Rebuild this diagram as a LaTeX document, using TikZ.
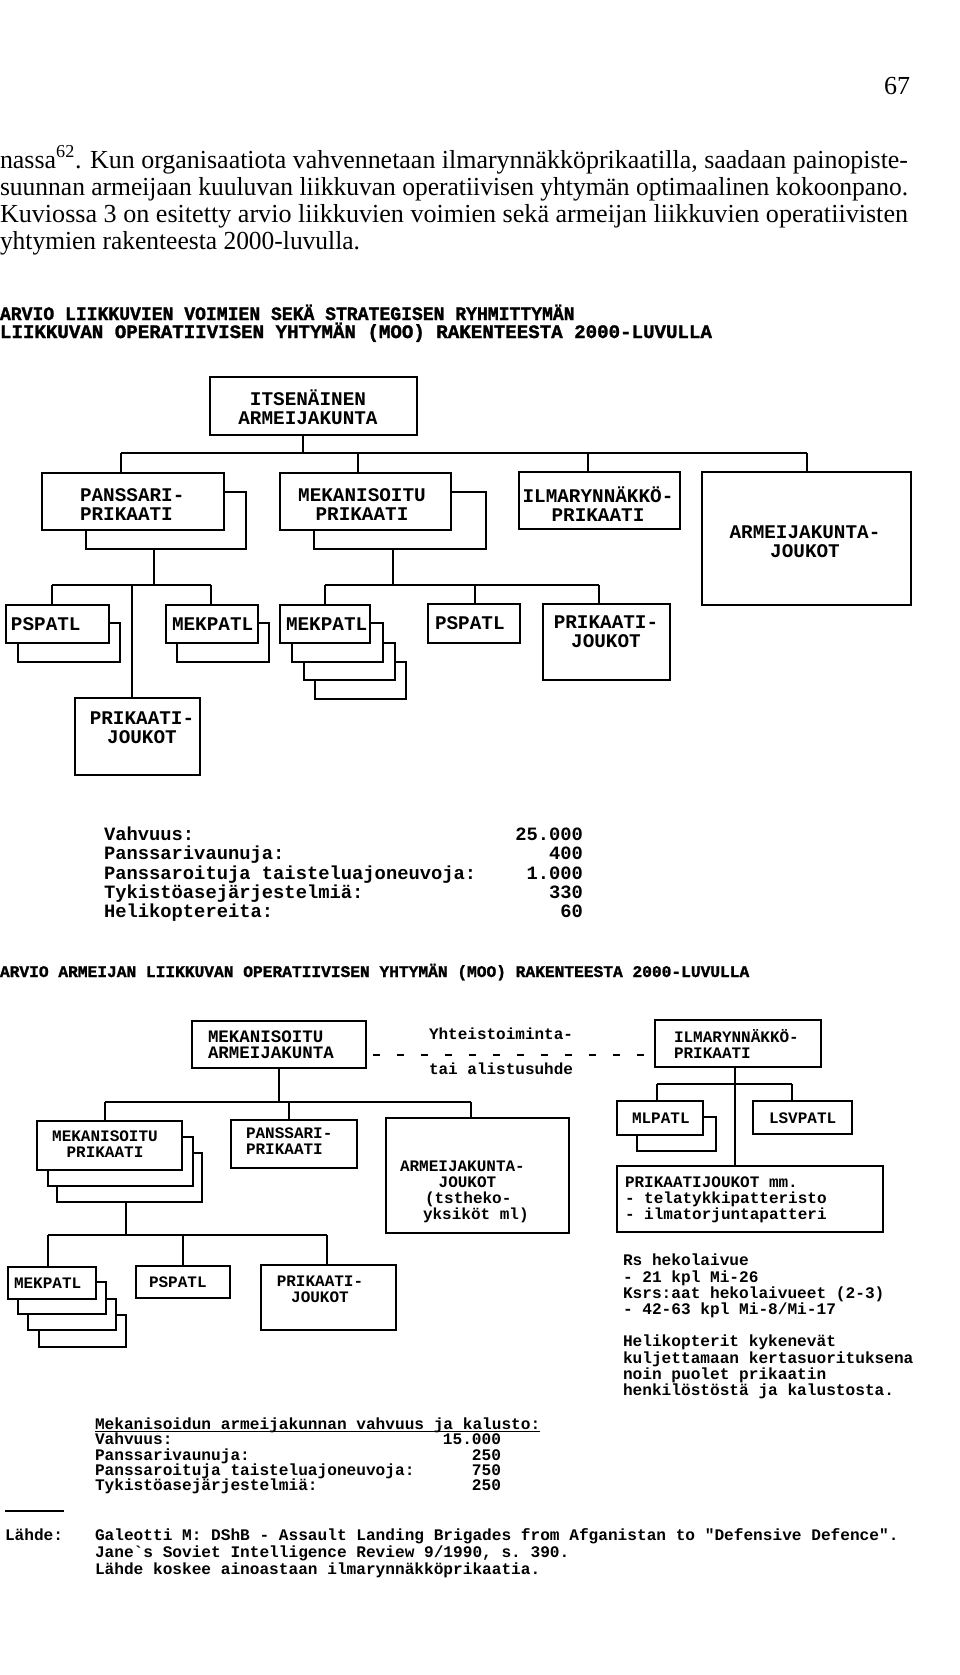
\documentclass[tikz,border=0pt]{standalone}
\usepackage{fontspec}
\usepackage{graphicx}
\setmainfont{Liberation Serif}
\setmonofont{Liberation Mono}
\newfontfamily\headfont{Liberation Mono}[BoldFeatures={FakeBold=1.5}]
\usetikzlibrary{fit}
\newcommand\fitw[2]{\resizebox{#1}{\height}{#2}}
\newcommand\fA{\ttfamily\bfseries\fontsize{14.5pt}{14.25pt}\selectfont}
\newcommand\fB{\ttfamily\bfseries\fontsize{12pt}{12pt}\selectfont}
\newcommand\fBm{\ttfamily\bfseries\fontsize{13.1pt}{12pt}\selectfont}
\newcommand\fS{\ttfamily\bfseries\fontsize{14.1pt}{14.25pt}\selectfont}
\newcommand\fT{\ttfamily\bfseries\fontsize{12.1pt}{12.2pt}\selectfont}
\newcommand\fH{\headfont\bfseries\fontsize{14.25pt}{14.25pt}\selectfont}
\newcommand\fHb{\headfont\bfseries\fontsize{12.2pt}{12.2pt}\selectfont}
\newcommand\fP{\rmfamily\fontsize{19.5pt}{20.25pt}\selectfont}
\newcommand\bx[6][box]{\node[#1, fit={(#3,#4) (#5,#6)}] (#2) {};}
\tikzset{
  box/.style={draw, line width=1.3pt, fill=white, inner sep=0pt, outer sep=0pt},
  boxb/.style={draw, line width=1.1pt, fill=white, inner sep=0pt, outer sep=0pt},
  ln/.style={line width=1.3pt},
  lnb/.style={line width=1.1pt},
  tx/.style={inner sep=0pt, outer sep=0pt},
  ta/.style={tx, font=\fA},
  tb/.style={tx, font=\fB},
  ts/.style={tx, font=\fS},
  tt/.style={tx, font=\fT},
}
\begin{document}
\begin{tikzpicture}[x=0.75pt,y=-0.75pt]
\useasboundingbox[fill=white] (0,0) rectangle (960,1675);

% ---------- page number and paragraph ----------
\node[tx, font=\fP, anchor=base west] (pnum) at (884,94) {67};
\node[tx, font=\fP, anchor=base west] (p1) at (0,168) {\fitw{681pt}{nassa\textsuperscript{62}. Kun organisaatiota vahvennetaan ilmarynnäkköprikaatilla, saadaan painopiste-}};
\node[tx, font=\fP, anchor=base west] (p2) at (0,195) {\fitw{681pt}{suunnan armeijaan kuuluvan liikkuvan operatiivisen yhtymän optimaalinen kokoonpano.}};
\node[tx, font=\fP, anchor=base west] (p3) at (0,222) {\fitw{681pt}{Kuviossa 3 on esitetty arvio liikkuvien voimien sekä armeijan liikkuvien operatiivisten}};
\node[tx, font=\fP, anchor=base west] (p4) at (0,249) {\fitw{270pt}{yhtymien rakenteesta 2000-luvulla.}};

% ---------- heading 1 ----------
\node[tx, font=\fH, anchor=base west] (h1a) at (0,320) {\fitw{431pt}{ARVIO LIIKKUVIEN VOIMIEN SEKÄ STRATEGISEN RYHMITTYMÄN}};
\node[tx, font=\fH, anchor=base west] (h1b) at (0,338) {\fitw{534pt}{LIIKKUVAN OPERATIIVISEN YHTYMÄN (MOO) RAKENTEESTA 2000-LUVULLA}};

% ---------- chart 1 boxes ----------
\bx{itsen}{210}{377}{417}{435}
\bx{pansB}{86}{492}{246}{549}
\bx{pansF}{42}{473}{224}{530}
\bx{mekB}{314}{492}{486}{549}
\bx{mekF}{280}{473}{451}{530}
\bx{ilma}{519}{472}{680}{529}
\bx{akj}{702}{472}{911}{605}
\bx{ps1B}{18}{623}{120}{662}
\bx{ps1F}{6}{605}{109}{643}
\bx{mp1B}{177}{623}{269}{662}
\bx{mp1F}{166}{605}{258}{643}
\bx{pj1}{75}{698}{200}{775}
\bx{mp2C}{315}{662}{406}{699}
\bx{mp2B}{304}{643}{395}{680}
\bx{mp2A}{292}{623}{383}{662}
\bx{mp2F}{280}{605}{370}{643}
\bx{ps2}{428}{604}{520}{643}
\bx{pj2}{543}{604}{670}{680}

% chart 1 texts
\node[ta, align=center] (t-itsen) at (308,407) {ITSENÄINEN\\ARMEIJAKUNTA};
\node[ta, align=left, anchor=west] (t-pans) at (80,505) {PANSSARI-\\PRIKAATI};
\node[ta, align=center] (t-mek) at (362,505) {MEKANISOITU\\PRIKAATI};
\node[ta, align=center] (t-ilma) at (598,504) {ILMARYNNÄKKÖ-\\PRIKAATI};
\node[ta, align=center] (t-akj) at (805,542) {ARMEIJAKUNTA-\\JOUKOT};
\node[ta, anchor=west] (t-ps1) at (11,624) {PSPATL};
\node[ta, anchor=west] (t-mp1) at (172,624) {MEKPATL};
\node[ta, anchor=west] (t-mp2) at (286,624) {MEKPATL};
\node[ta, anchor=west] (t-ps2) at (435,623) {PSPATL};
\node[ta, align=center] (t-pj1) at (142,728) {PRIKAATI-\\JOUKOT};
\node[ta, align=center] (t-pj2) at (606,632) {PRIKAATI-\\JOUKOT};

% chart 1 connectors
\coordinate (b1m) at (303,453);
\coordinate (b1a) at (121,453);
\coordinate (b1b) at (358,453);
\coordinate (b1c) at (588,453);
\coordinate (b1d) at (807,453);
\draw[ln] (b1m |- itsen.south) -- (b1m);
\draw[ln] (b1a) -- (b1d);
\draw[ln] (b1a) -- (b1a |- pansF.north);
\draw[ln] (b1b) -- (b1b |- mekF.north);
\draw[ln] (b1c) -- (b1c |- ilma.north);
\draw[ln] (b1d) -- (b1d |- akj.north);

\coordinate (b2m) at (154,585);
\coordinate (b2a) at (52,585);
\coordinate (b2b) at (211,585);
\coordinate (b2c) at (132,585);
\draw[ln] (b2m |- pansB.south) -- (b2m);
\draw[ln] (b2a) -- (b2b);
\draw[ln] (b2a) -- (b2a |- ps1F.north);
\draw[ln] (b2b) -- (b2b |- mp1F.north);
\draw[ln] (b2c) -- (b2c |- pj1.north);

\coordinate (b3m) at (393,585);
\coordinate (b3a) at (325,585);
\coordinate (b3b) at (475,585);
\coordinate (b3c) at (599,585);
\draw[ln] (b3m |- mekB.south) -- (b3m);
\draw[ln] (b3a) -- (b3c);
\draw[ln] (b3a) -- (b3a |- mp2F.north);
\draw[ln] (b3b) -- (b3b |- ps2.north);
\draw[ln] (b3c) -- (b3c |- pj2.north);

% ---------- statistics 1 ----------
\node[ts, anchor=base west] (s1a) at (104,840) {Vahvuus:};
\node[ts, anchor=base west] (s1b) at (104,859) {Panssarivaunuja:};
\node[ts, anchor=base west] (s1c) at (104,879) {Panssaroituja taisteluajoneuvoja:};
\node[ts, anchor=base west] (s1d) at (104,898) {Tykistöasejärjestelmiä:};
\node[ts, anchor=base west] (s1e) at (104,917) {Helikoptereita:};
\node[ts, anchor=base east] (v1a) at (583,840) {25.000};
\node[ts, anchor=base east] (v1b) at (583,859) {400};
\node[ts, anchor=base east] (v1c) at (583,879) {1.000};
\node[ts, anchor=base east] (v1d) at (583,898) {330};
\node[ts, anchor=base east] (v1e) at (583,917) {60};

% ---------- heading 2 ----------
\node[tx, font=\fHb, anchor=base west] (h2) at (0,977) {\fitw{562pt}{ARVIO ARMEIJAN LIIKKUVAN OPERATIIVISEN YHTYMÄN (MOO) RAKENTEESTA 2000-LUVULLA}};

% ---------- chart 2 boxes ----------
\bx[boxb]{mak}{192}{1021}{366}{1068}
\bx[boxb]{ilma2}{655}{1020}{821}{1067}
\bx[boxb]{mpr2C}{57}{1153}{202}{1202}
\bx[boxb]{mpr2B}{48}{1137}{193}{1186}
\bx[boxb]{mpr2F}{37}{1121}{182}{1170}
\bx[boxb]{ppr2}{231}{1120}{357}{1168}
\bx[boxb]{akj2}{386}{1118}{569}{1233}
\bx[boxb]{mp3C}{39}{1315}{126}{1347}
\bx[boxb]{mp3B}{28}{1299}{116}{1330}
\bx[boxb]{mp3A}{18}{1282}{106}{1314}
\bx[boxb]{mp3F}{8}{1267}{96}{1299}
\bx[boxb]{ps3}{136}{1266}{230}{1298}
\bx[boxb]{pj3}{261}{1265}{396}{1330}
\bx[boxb]{mlB}{637}{1117}{716}{1151}
\bx[boxb]{mlF}{617}{1101}{703}{1135}
\bx[boxb]{lsv}{753}{1101}{852}{1134}
\bx[boxb]{prjo}{617}{1166}{883}{1232}

% chart 2 texts
\node[tx, font=\fBm, align=left, anchor=west] (t-mak) at (208,1045) {MEKANISOITU\\ARMEIJAKUNTA};
\node[tb, anchor=west] (t-yht) at (429,1034) {Yhteistoiminta-};
\node[tb, anchor=west] (t-tai) at (429,1069) {tai alistusuhde};
\node[tb, align=left, anchor=west] (t-ilma2) at (674,1044) {ILMARYNNÄKKÖ-\\PRIKAATI};
\node[tb, align=center] (t-mpr2) at (105,1144) {MEKANISOITU\\PRIKAATI};
\node[tb, align=left, anchor=west] (t-ppr2) at (246,1141) {PANSSARI-\\PRIKAATI};
\node[tb, align=left, anchor=west] (t-akj2) at (400,1192) {ARMEIJAKUNTA-\\\hspace*{29pt}JOUKOT\\\hspace*{18.75pt}(tstheko-\\\hspace*{17.25pt}yksiköt ml)};
\node[tb, anchor=west] (t-mp3) at (14,1283) {MEKPATL};
\node[tb, anchor=west] (t-ps3) at (149,1282) {PSPATL};
\node[tb, align=center] (t-pj3) at (320,1289) {PRIKAATI-\\JOUKOT};
\node[tb, anchor=west] (t-ml) at (632,1118) {MLPATL};
\node[tb, anchor=west] (t-lsv) at (769,1118) {LSVPATL};
\node[tb, align=left, anchor=west] (t-prjo) at (625,1200) {PRIKAATIJOUKOT mm.\\- telatykkipatteristo\\- ilmatorjuntapatteri};

% chart 2 connectors
\coordinate (dl) at (0,1055);
\draw[lnb, dash pattern=on 5.25pt off 12.75pt, dash phase=-5pt] (mak.east |- dl) -- (ilma2.west |- dl);
\coordinate (b4m) at (279,1102);
\coordinate (b4a) at (105,1102);
\coordinate (b4b) at (289,1102);
\coordinate (b4c) at (471,1102);
\draw[lnb] (b4m |- mak.south) -- (b4m);
\draw[lnb] (b4a) -- (b4c);
\draw[lnb] (b4a) -- (b4a |- mpr2F.north);
\draw[lnb] (b4b) -- (b4b |- ppr2.north);
\draw[lnb] (b4c) -- (b4c |- akj2.north);

\coordinate (b5m) at (126,1235);
\coordinate (b5a) at (48,1235);
\coordinate (b5b) at (183,1235);
\coordinate (b5c) at (327,1235);
\draw[lnb] (b5m |- mpr2C.south) -- (b5m);
\draw[lnb] (b5a) -- (b5c);
\draw[lnb] (b5a) -- (b5a |- mp3F.north);
\draw[lnb] (b5b) -- (b5b |- ps3.north);
\draw[lnb] (b5c) -- (b5c |- pj3.north);

\coordinate (b6m) at (735,1084);
\coordinate (b6a) at (657,1084);
\coordinate (b6b) at (792,1084);
\draw[lnb] (b6m |- ilma2.south) -- (b6m |- prjo.north);
\draw[lnb] (b6a) -- (b6b);
\draw[lnb] (b6a) -- (b6a |- mlF.north);
\draw[lnb] (b6b) -- (b6b |- lsv.north);

% right notes
\node[tt, align=left, anchor=west] (n1) at (623,1286) {Rs hekolaivue\\- 21 kpl Mi-26\\Ksrs:aat hekolaivueet (2-3)\\- 42-63 kpl Mi-8/Mi-17};
\node[tt, align=left, anchor=west] (n2) at (623,1367) {Helikopterit kykenevät\\kuljettamaan kertasuorituksena\\noin puolet prikaatin\\henkilöstöstä ja kalustosta.};

% ---------- statistics 2 ----------
\node[tt, anchor=base west] (s2h) at (95,1429) {Mekanisoidun armeijakunnan vahvuus ja kalusto:};
\draw[line width=0.7pt] ([yshift=-1.6pt]s2h.base west) -- ([yshift=-1.6pt]s2h.base east);
\node[tt, anchor=base west] (s2a) at (95,1444) {Vahvuus:};
\node[tt, anchor=base west] (s2b) at (95,1460) {Panssarivaunuja:};
\node[tt, anchor=base west] (s2c) at (95,1475) {Panssaroituja taisteluajoneuvoja:};
\node[tt, anchor=base west] (s2d) at (95,1490) {Tykistöasejärjestelmiä:};
\node[tt, anchor=base east] (v2a) at (501,1444) {15.000};
\node[tt, anchor=base east] (v2b) at (501,1460) {250};
\node[tt, anchor=base east] (v2c) at (501,1475) {750};
\node[tt, anchor=base east] (v2d) at (501,1490) {250};

% ---------- source ----------
\draw[line width=0.9pt] (5,1511) -- (64,1511);
\node[tt, anchor=base west] (src) at (5,1540) {Lähde:};
\node[tt, anchor=base west] (src1) at (95,1540) {Galeotti M: DShB - Assault Landing Brigades from Afganistan to "Defensive Defence".};
\node[tt, anchor=base west] (src2) at (95,1557) {Jane\textasciigrave s Soviet Intelligence Review 9/1990, s. 390.};
\node[tt, anchor=base west] (src3) at (95,1574) {Lähde koskee ainoastaan ilmarynnäkköprikaatia.};
\end{tikzpicture}
\end{document}
